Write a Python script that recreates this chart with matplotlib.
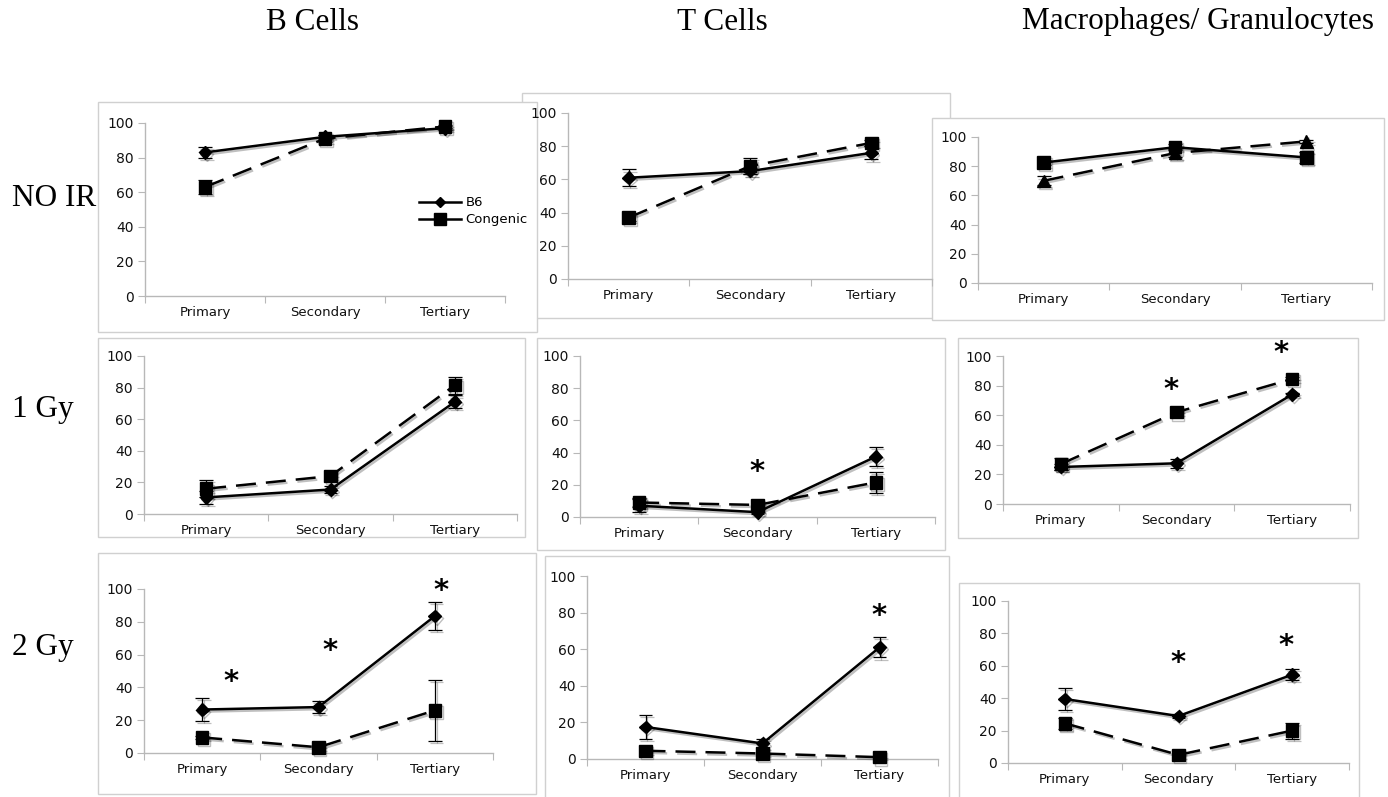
import numpy as np
import matplotlib
matplotlib.use("Agg")
import matplotlib.pyplot as plt
import matplotlib.patheffects as pe
from matplotlib.patches import Rectangle
from matplotlib.lines import Line2D

plt.rcParams["font.family"] = ["DejaVu Sans"]

W, H = 1388, 797

stages = ["Primary", "Secondary", "Tertiary"]
cell_types = ["B Cells", "T Cells", "Macrophages/ Granulocytes"]
doses = ["NO IR", "1 Gy", "2 Gy"]

# rows: NO IR, 1 Gy, 2 Gy ; columns: Primary, Secondary, Tertiary
b_b6 = [[83, 92, 97], [10.5, 15.5, 71], [26.5, 28, 83.5]]
b_b6_err = [[3, 1, 1], [4, 2, 4], [7, 3.5, 8.5]]
b_con = [[63, 91, 98], [16, 24, 81.5], [9.5, 3.5, 26]]
b_con_err = [[4, 2, 1], [5.5, 1, 5.5], [1, 1, 18.5]]

t_b6 = [[61, 65, 76], [7, 3, 37.5], [17.5, 8.5, 61]]
t_b6_err = [[5, 2, 4], [4, 1, 6], [6.5, 2.5, 5.5]]
t_con = [[37, 68, 82], [9, 7.5, 21.5], [4.5, 3, 1]]
t_con_err = [[2, 5, 2], [3, 1, 6.5], [1, 0.5, 0.5]]

m_b6 = [[82.5, 93, 86], [25, 27.5, 74], [39.5, 29, 54.5]]
m_b6_err = [[2, 2, 4], [2, 3, 1], [7, 1, 3.5]]
m_con = [[70, 89, 97], [27, 62, 84.5], [24.5, 5, 20]]
m_con_err = [[3, 3, 1], [4, 1, 1], [3.5, 1, 5]]

# significance marks: (row, col, x position, y value)
stars = [(1, 1, 1.0, 28), (1, 2, 0.95, 77), (1, 2, 1.9, 102),
         (2, 0, 0.25, 43), (2, 0, 1.1, 62), (2, 0, 2.05, 99),
         (2, 1, 2.0, 78), (2, 2, 1.0, 62), (2, 2, 1.95, 72)]

means = [[b_b6, b_con], [t_b6, t_con], [m_b6, m_con]]
errs = [[b_b6_err, b_con_err], [t_b6_err, t_con_err], [m_b6_err, m_con_err]]

# panel frames (pixels: x0, y0, x1, y1), in drawing order
frames = {(0, 1): (522, 93, 950, 318), (0, 0): (98, 102, 537, 332),
          (0, 2): (932, 118, 1384, 320),
          (1, 0): (98, 338, 525, 537), (1, 1): (537, 338, 945, 550),
          (1, 2): (958, 338, 1358, 538),
          (2, 0): (98, 553, 536, 794), (2, 1): (545, 556, 949, 800),
          (2, 2): (959, 583, 1359, 800)}

# axes boxes (pixels: left, right, y at 100, y at 0)
boxes = {(0, 0): (145, 505, 123, 296), (0, 1): (568, 932, 113, 279),
         (0, 2): (978, 1372, 137, 283),
         (1, 0): (144, 517, 356, 514), (1, 1): (580, 935, 356, 517),
         (1, 2): (1003, 1350, 356, 504),
         (2, 0): (144, 493, 589, 753), (2, 1): (587, 938, 576, 759),
         (2, 2): (1008, 1349, 601, 763)}

fig = plt.figure(figsize=(W / 100, H / 100), dpi=100)
fig.patch.set_facecolor("white")

for (r, c), (x0, y0, x1, y1) in frames.items():
    fig.patches.append(Rectangle((x0 / W, 1 - y1 / H), (x1 - x0) / W, (y1 - y0) / H,
                                 transform=fig.transFigure, facecolor="white",
                                 edgecolor="#d0d0d0", linewidth=1.0, zorder=-5))

shadow = [pe.SimpleLineShadow(offset=(1.2, -1.5), shadow_color="k", alpha=0.25),
          pe.Normal()]
x = np.arange(3)

for (r, c), (left, right, ytop, ybot) in boxes.items():
    ax = fig.add_axes([left / W, 1 - ybot / H, (right - left) / W, (ybot - ytop) / H])
    ax.patch.set_alpha(0)
    if (r, c) == (0, 2):
        mk_solid, mk_dash = "s", "^"
    else:
        mk_solid, mk_dash = "D", "s"
    solid_vals = means[c][0][r]
    dash_vals = means[c][1][r]
    # dashed series first so the solid line sits on top
    ax.errorbar(x, dash_vals, yerr=errs[c][1][r], color="k", lw=1.8,
                marker=mk_dash, ms=9, dashes=(8, 4),
                ecolor="k", elinewidth=0.9, capsize=5, capthick=0.9,
                clip_on=False, path_effects=shadow, zorder=3)
    ax.errorbar(x, solid_vals, yerr=errs[c][0][r], color="k", lw=1.8,
                marker=mk_solid, ms=6.5 if mk_solid == "D" else 9,
                ecolor="k", elinewidth=0.9, capsize=5, capthick=0.9,
                clip_on=False, path_effects=shadow, zorder=4)

    ax.set_xlim(-0.5, 2.5)
    ax.set_ylim(0, 100)
    ax.set_yticks(range(0, 101, 20))
    ax.set_xticks([-0.5, 0.5, 1.5, 2.5])
    ax.set_xticklabels([])
    ax.set_xticks(x, minor=True)
    ax.set_xticklabels(stages, minor=True)
    ax.tick_params(axis="x", which="major", length=5, color="#b8b8b8", direction="out")
    ax.tick_params(axis="x", which="minor", length=0, pad=7, labelsize=9.5,
                   labelcolor="#111111")
    ax.tick_params(axis="y", length=5, color="#b8b8b8", direction="out",
                   pad=3, labelsize=10, labelcolor="#111111")
    for s in ["top", "right"]:
        ax.spines[s].set_visible(False)
    for s in ["left", "bottom"]:
        ax.spines[s].set_color("#b8b8b8")
        ax.spines[s].set_linewidth(1.0)

    for (sr, sc, sx, sy) in stars:
        if (sr, sc) == (r, c):
            ax.text(sx, sy, "*", ha="center", va="center", fontsize=21,
                    fontweight="bold", clip_on=False)

    if (r, c) == (0, 0):
        handles = [Line2D([], [], color="k", lw=1.8, marker="D", ms=5.5),
                   Line2D([], [], color="k", lw=1.8, marker="s", ms=8)]
        ax.legend(handles, ["B6", "Congenic"], loc="center left",
                  bbox_to_anchor=(0.735, 0.49), frameon=False, fontsize=9.5,
                  handlelength=3.2, handletextpad=0.35, labelspacing=0.3,
                  borderpad=0.2)

serif = ["Liberation Serif", "DejaVu Serif"]
for c, (name, cx) in enumerate(zip(cell_types, [313, 722, 1198])):
    fig.text(cx / W, 1 - 22 / H, name, ha="center", va="center",
             fontsize=22.5, family=serif)
for name, cy in zip(doses, [198, 410, 647]):
    fig.text(12 / W, 1 - cy / H, name, ha="left", va="center",
             fontsize=22.5, family=serif)

fig.savefig("out.png", dpi=100, facecolor="white")
